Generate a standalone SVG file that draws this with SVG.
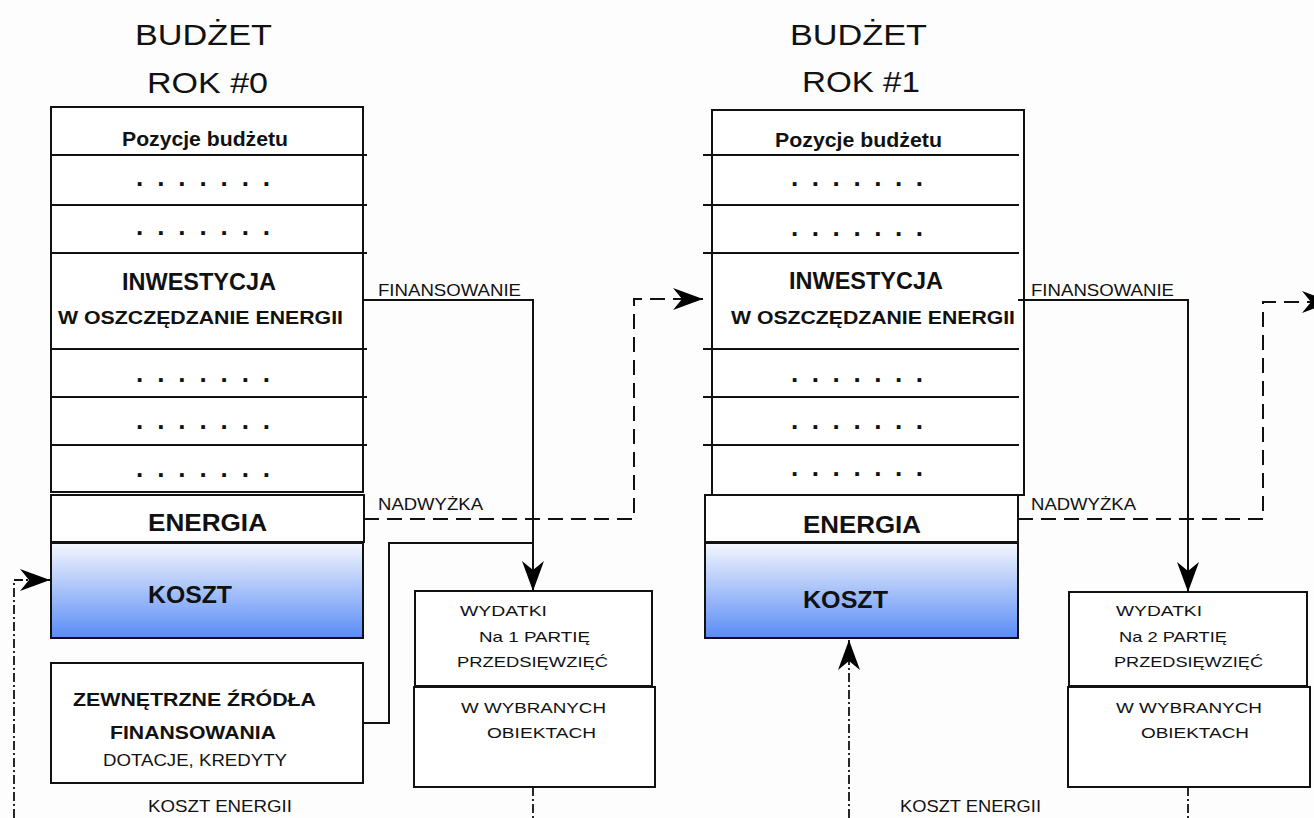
<svg xmlns="http://www.w3.org/2000/svg" width="1314" height="818" viewBox="0 0 1314 818">
<defs>
<linearGradient id="kg" x1="0" y1="0" x2="0" y2="1">
<stop offset="0" stop-color="#f4f7fe"/>
<stop offset="1" stop-color="#5a8cf6"/>
</linearGradient>
<marker id="ah" markerUnits="userSpaceOnUse" markerWidth="32" markerHeight="24" refX="30" refY="11" orient="auto" overflow="visible">
<path d="M0,0 L30,11 L0,22 L9,11 Z" fill="#000"/>
</marker>
<style>
text{font-family:"Liberation Sans",Arial,sans-serif;fill:#111}
.title{font-size:30px}
.hd{font-size:20px;font-weight:bold}
.big{font-size:24px;font-weight:bold}
.mid{font-size:19px;font-weight:bold}
.sm{font-size:15px}
.lb{font-size:17px}
.dots{font-size:26px;font-weight:bold}
.box{fill:#fff;stroke:#111;stroke-width:2}
.ln{fill:none;stroke:#111;stroke-width:2}
.dash{fill:none;stroke:#111;stroke-width:2;stroke-dasharray:15 8}
.dd{fill:none;stroke:#111;stroke-width:1.8;stroke-dasharray:9 3 2 3}
</style>
</defs>
<rect width="1314" height="818" fill="#fdfdfd"/>

<g id="budget0">
<text class="title" x="135" y="45" textLength="137" lengthAdjust="spacingAndGlyphs">BUDŻET</text>
<text class="title" x="147" y="93" textLength="121" lengthAdjust="spacingAndGlyphs">ROK #0</text>
<rect class="box" x="51" y="107" width="312" height="385"/>
<line class="ln" x1="51" y1="155" x2="367" y2="155"/>
<line class="ln" x1="51" y1="205" x2="367" y2="205"/>
<line class="ln" x1="51" y1="253" x2="367" y2="253"/>
<line class="ln" x1="51" y1="349" x2="367" y2="349"/>
<line class="ln" x1="51" y1="397" x2="367" y2="397"/>
<line class="ln" x1="51" y1="445" x2="367" y2="445"/>
<text class="hd" x="122" y="146" textLength="166" lengthAdjust="spacingAndGlyphs">Pozycje budżetu</text>
<text class="dots" x="136" y="186" textLength="134" lengthAdjust="spacing">. . . . . . .</text>
<text class="dots" x="136" y="235" textLength="134" lengthAdjust="spacing">. . . . . . .</text>
<text class="big" x="122" y="290" textLength="154" lengthAdjust="spacingAndGlyphs">INWESTYCJA</text>
<text class="mid" x="58" y="324" textLength="285" lengthAdjust="spacingAndGlyphs">W OSZCZĘDZANIE ENERGII</text>
<text class="dots" x="136" y="382" textLength="134" lengthAdjust="spacing">. . . . . . .</text>
<text class="dots" x="136" y="429" textLength="134" lengthAdjust="spacing">. . . . . . .</text>
<text class="dots" x="136" y="477" textLength="134" lengthAdjust="spacing">. . . . . . .</text>
</g>

<g id="energia0">
<rect class="box" x="51" y="495" width="313" height="47"/>
<text class="big" x="148" y="531" textLength="119" lengthAdjust="spacingAndGlyphs">ENERGIA</text>
</g>

<g id="koszt0">
<rect x="51" y="543" width="312" height="95" fill="url(#kg)" stroke="#111" stroke-width="2"/>
<text class="big" x="148" y="603" textLength="84" lengthAdjust="spacingAndGlyphs">KOSZT</text>
</g>

<g id="zrodla">
<rect class="box" x="51" y="663" width="312" height="120"/>
<text class="mid" x="73" y="706" textLength="243" lengthAdjust="spacingAndGlyphs">ZEWNĘTRZNE ŹRÓDŁA</text>
<text class="mid" x="110" y="739" textLength="166" lengthAdjust="spacingAndGlyphs">FINANSOWANIA</text>
<text class="lb" x="103" y="766" textLength="184" lengthAdjust="spacingAndGlyphs">DOTACJE, KREDYTY</text>
</g>

<g id="wydatki1">
<rect class="box" x="415" y="591" width="237" height="95"/>
<rect class="box" x="414" y="687" width="241" height="100"/>
<text class="sm" x="460" y="616" textLength="87" lengthAdjust="spacingAndGlyphs">WYDATKI</text>
<text class="sm" x="479" y="642" textLength="111" lengthAdjust="spacingAndGlyphs">Na 1 PARTIĘ</text>
<text class="sm" x="457" y="667" textLength="151" lengthAdjust="spacingAndGlyphs">PRZEDSIĘWZIĘĆ</text>
<text class="sm" x="461" y="713" textLength="145" lengthAdjust="spacingAndGlyphs">W WYBRANYCH</text>
<text class="sm" x="487" y="738" textLength="109" lengthAdjust="spacingAndGlyphs">OBIEKTACH</text>
</g>

<g id="budget1">
<text class="title" x="790" y="45" textLength="137" lengthAdjust="spacingAndGlyphs">BUDŻET</text>
<text class="title" x="802" y="92" textLength="118" lengthAdjust="spacingAndGlyphs">ROK #1</text>
<rect class="box" x="712" y="110" width="312" height="385"/>
<line class="ln" x1="703" y1="155" x2="1019" y2="155"/>
<line class="ln" x1="703" y1="205" x2="1019" y2="205"/>
<line class="ln" x1="703" y1="253" x2="1019" y2="253"/>
<line class="ln" x1="703" y1="349" x2="1019" y2="349"/>
<line class="ln" x1="703" y1="397" x2="1019" y2="397"/>
<line class="ln" x1="703" y1="445" x2="1019" y2="445"/>
<text class="hd" x="775" y="147" textLength="167" lengthAdjust="spacingAndGlyphs">Pozycje budżetu</text>
<text class="dots" x="791" y="186" textLength="132" lengthAdjust="spacing">. . . . . . .</text>
<text class="dots" x="791" y="236" textLength="132" lengthAdjust="spacing">. . . . . . .</text>
<text class="big" x="789" y="289" textLength="154" lengthAdjust="spacingAndGlyphs">INWESTYCJA</text>
<text class="mid" x="731" y="324" textLength="284" lengthAdjust="spacingAndGlyphs">W OSZCZĘDZANIE ENERGII</text>
<text class="dots" x="791" y="382" textLength="132" lengthAdjust="spacing">. . . . . . .</text>
<text class="dots" x="791" y="429" textLength="132" lengthAdjust="spacing">. . . . . . .</text>
<text class="dots" x="791" y="476" textLength="132" lengthAdjust="spacing">. . . . . . .</text>
</g>

<g id="energia1">
<rect class="box" x="705" y="495" width="313" height="47"/>
<text class="big" x="803" y="533" textLength="118" lengthAdjust="spacingAndGlyphs">ENERGIA</text>
</g>

<g id="koszt1">
<rect x="705" y="543" width="313" height="95" fill="url(#kg)" stroke="#111" stroke-width="2"/>
<text class="big" x="803" y="608" textLength="85" lengthAdjust="spacingAndGlyphs">KOSZT</text>
</g>

<g id="wydatki2">
<rect class="box" x="1069" y="592" width="238" height="94"/>
<rect class="box" x="1068" y="687" width="242" height="100"/>
<text class="sm" x="1116" y="616" textLength="86" lengthAdjust="spacingAndGlyphs">WYDATKI</text>
<text class="sm" x="1119" y="642" textLength="108" lengthAdjust="spacingAndGlyphs">Na 2 PARTIĘ</text>
<text class="sm" x="1114" y="667" textLength="149" lengthAdjust="spacingAndGlyphs">PRZEDSIĘWZIĘĆ</text>
<text class="sm" x="1116" y="713" textLength="146" lengthAdjust="spacingAndGlyphs">W WYBRANYCH</text>
<text class="sm" x="1141" y="738" textLength="108" lengthAdjust="spacingAndGlyphs">OBIEKTACH</text>
</g>

<g id="connectors">
<polyline class="ln" points="363,300 533,300 533,591" marker-end="url(#ah)"/>
<polyline class="ln" points="363,723 389,723 389,543 533,543"/>
<polyline class="dash" points="364,519 634,519 634,299 703,299" marker-end="url(#ah)"/>
<polyline class="dd" points="14,818 14,580 50,580" marker-end="url(#ah)"/>
<line class="dd" x1="533" y1="787" x2="533" y2="818"/>
<polyline class="ln" points="1018,300 1188,300 1188,592" marker-end="url(#ah)"/>
<polyline class="dash" points="1018,519 1263,519 1263,302 1332,302" marker-end="url(#ah)"/>
<polyline class="dd" points="849,818 849,640" marker-end="url(#ah)"/>
<line class="dd" x1="1188" y1="787" x2="1188" y2="818"/>
<text class="lb" x="378" y="296" textLength="143" lengthAdjust="spacingAndGlyphs">FINANSOWANIE</text>
<text class="lb" x="378" y="510" textLength="105" lengthAdjust="spacingAndGlyphs">NADWYŻKA</text>
<text class="lb" x="1031" y="296" textLength="143" lengthAdjust="spacingAndGlyphs">FINANSOWANIE</text>
<text class="lb" x="1031" y="510" textLength="105" lengthAdjust="spacingAndGlyphs">NADWYŻKA</text>
<text class="lb" x="148" y="812" textLength="144" lengthAdjust="spacingAndGlyphs">KOSZT ENERGII</text>
<text class="lb" x="900" y="812" textLength="141" lengthAdjust="spacingAndGlyphs">KOSZT ENERGII</text>
</g>
</svg>
